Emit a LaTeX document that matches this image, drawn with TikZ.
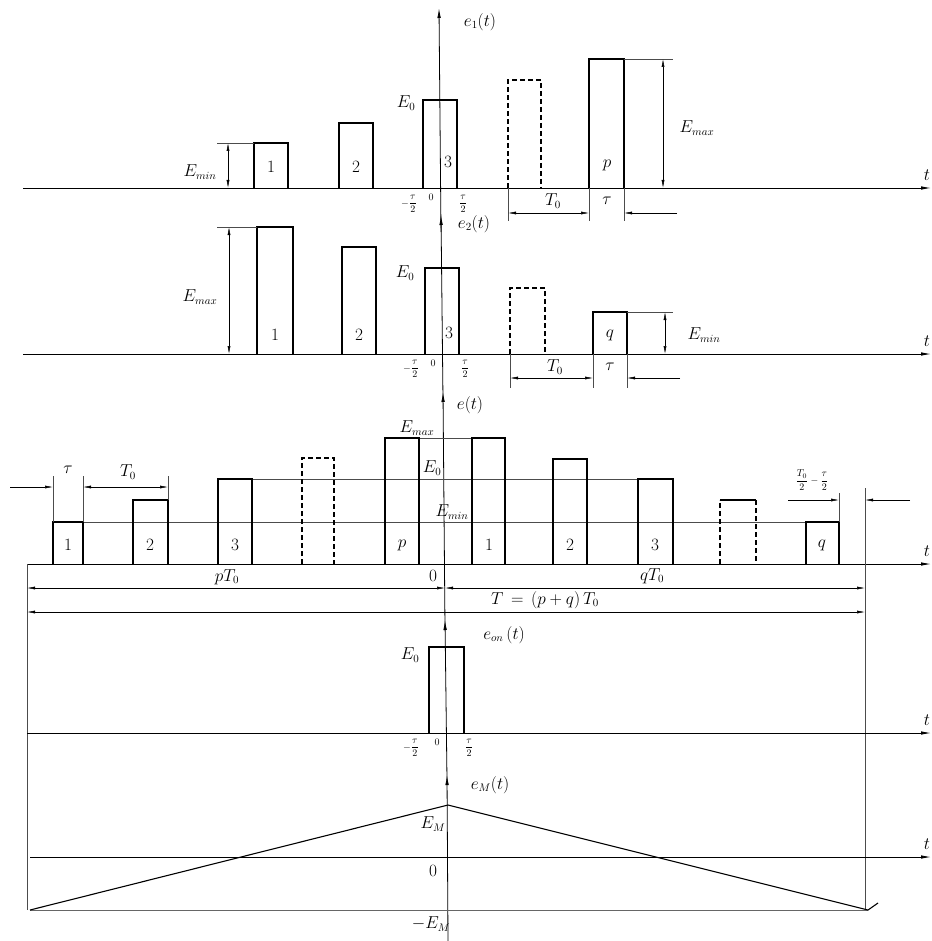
\documentclass[tikz,border=0pt]{standalone}
\usetikzlibrary{arrows.meta}
\begin{document}
\begin{tikzpicture}[x=1pt,y=-1pt,
  thinl/.style={line width=0.6pt, black!70},
  pulse/.style={line width=1.3pt},
  dpulse/.style={line width=1.3pt, dash pattern=on 5pt off 3pt},
  dimboth/.style={line width=0.5pt, {Latex[length=8pt,width=3pt]}-{Latex[length=8pt,width=3pt]}},
  dimend/.style={line width=0.5pt, -{Latex[length=8pt,width=3pt]}},
  axisarrow/.style={line width=0.8pt, -{Latex[length=10pt,width=3.5pt]}},
  lab/.style={font=\fontsize{16}{18}\selectfont, inner sep=1pt},
  slab/.style={font=\fontsize{10}{11}\selectfont, inner sep=0.5pt},
]
\useasboundingbox (0,0) rectangle (931,941);

% ---------------- axes (vertical) ----------------
\draw[axisarrow] (441,232) -- (439,8);
\draw[axisarrow] (443,400) -- (441,215);
\draw[axisarrow] (445,628) -- (443,392);
\draw[axisarrow] (447,780) -- (445,620);
\draw[axisarrow] (448,941) -- (447,775);

% ---------------- panel 1 : e1(t) ----------------
\draw[axisarrow] (23,188) -- (931,188);
\node[lab] (t1) at (927,175) {$t$};
\node[lab] (e1) at (480,22) {$e_1(t)$};
\draw[pulse] (254,188) -- (254,143) -- (288,143) -- (288,188);
\draw[pulse] (339,188) -- (339,123) -- (373,123) -- (373,188);
\draw[pulse] (423,188) -- (423,100) -- (457,100) -- (457,188);
\draw[dpulse] (508,188) -- (508,80) -- (541,80) -- (541,188);
\draw[pulse] (589,188) -- (589,59) -- (624,59) -- (624,188);
\node[lab] (a1) at (271,167) {$1$};
\node[lab] (a2) at (356,167) {$2$};
\node[lab] (a3) at (448,162) {$3$};
\node[lab] (ap) at (607,165) {$p$};
\node[lab] (aE0) at (406,103) {$E_0$};
\draw[thinl] (217,143) -- (254,143);
\draw[dimboth] (228,143) -- (228,188);
\node[lab] (aEmin) at (200,172) {$E_{min}$};
\draw[thinl] (624,59) -- (673,59);
\draw[dimboth] (663,59) -- (663,188);
\node[lab] (aEmax) at (697,128) {$E_{max}$};
\node[slab] (am) at (409,204) {$\displaystyle-\frac{\tau}{2}$};
\node[slab] (a0) at (431,197) {$0$};
\node[slab] (apl) at (463,204) {$\displaystyle\frac{\tau}{2}$};
\draw[thinl] (508,188) -- (508,221);
\draw[thinl] (589,188) -- (589,221);
\draw[thinl] (624,188) -- (624,221);
\draw[dimboth] (508,213) -- (589,213);
\draw[dimend] (677,213) -- (624,213);
\node[lab] (aT0) at (553,201) {$T_0$};
\node[lab] (atau) at (607,201) {$\tau$};

% ---------------- panel 2 : e2(t) ----------------
\draw[axisarrow] (23,354) -- (931,354);
\node[lab] (t2) at (927,341) {$t$};
\node[lab] (e2) at (474,224) {$e_2(t)$};
\draw[pulse] (257,354) -- (257,227) -- (293,227) -- (293,354);
\draw[pulse] (342,354) -- (342,247) -- (376,247) -- (376,354);
\draw[pulse] (425,354) -- (425,268) -- (459,268) -- (459,354);
\draw[dpulse] (510,354) -- (510,288) -- (545,288) -- (545,354);
\draw[pulse] (593,354) -- (593,312) -- (627,312) -- (627,354);
\node[lab] (b1) at (275,335) {$1$};
\node[lab] (b2) at (359,335) {$2$};
\node[lab] (b3) at (449,333) {$3$};
\node[lab] (bq) at (610,335) {$q$};
\node[lab] (bE0) at (405,273) {$E_0$};
\draw[thinl] (217,227) -- (257,227);
\draw[dimboth] (229,227) -- (229,354);
\node[lab] (bEmax) at (200,297) {$E_{max}$};
\draw[thinl] (627,312) -- (673,312);
\draw[dimboth] (665,312) -- (665,354);
\node[lab] (bEmin) at (704,335) {$E_{min}$};
\node[slab] (bm) at (411,369) {$\displaystyle-\frac{\tau}{2}$};
\node[slab] (b0) at (433,363) {$0$};
\node[slab] (bpl) at (465,369) {$\displaystyle\frac{\tau}{2}$};
\draw[thinl] (510,354) -- (510,388);
\draw[thinl] (593,354) -- (593,388);
\draw[thinl] (627,354) -- (627,388);
\draw[dimboth] (510,378) -- (593,378);
\draw[dimend] (680,378) -- (627,378);
\node[lab] (bT0) at (555,367) {$T_0$};
\node[lab] (btau) at (610,367) {$\tau$};

% ---------------- panel 3 : e(t) ----------------
\draw[axisarrow] (27,564) -- (931,564);
\node[lab] (t3) at (927,551) {$t$};
\node[lab] (e3) at (470,405) {$e(t)$};
\draw[thinl] (27,564) -- (27,910);
\draw[thinl] (865,488) -- (865,910);
\draw[thinl] (385,438) -- (505,438);
\draw[thinl] (218,479) -- (673,479);
\draw[thinl] (53,522) -- (839,522);
% left pulses
\draw[pulse] (53,564) -- (53,522) -- (83,522) -- (83,564);
\draw[pulse] (133,564) -- (133,500) -- (168,500) -- (168,564);
\draw[pulse] (218,564) -- (218,479) -- (252,479) -- (252,564);
\draw[dpulse] (302,564) -- (302,458) -- (334,458) -- (334,564);
\draw[pulse] (385,564) -- (385,438) -- (419,438) -- (419,564);
% right pulses
\draw[pulse] (472,564) -- (472,438) -- (505,438) -- (505,564);
\draw[pulse] (553,564) -- (553,459) -- (587,459) -- (587,564);
\draw[pulse] (638,564) -- (638,479) -- (673,479) -- (673,564);
\draw[dpulse] (720,564) -- (720,500);
\draw[pulse] (720,500) -- (756,500);
\draw[dpulse] (756,500) -- (756,564);
\draw[pulse] (806,564) -- (806,522) -- (839,522) -- (839,564);
\node[lab] (c1) at (68,545) {$1$};
\node[lab] (c2) at (150,545) {$2$};
\node[lab] (c3) at (235,545) {$3$};
\node[lab] (cp) at (402,545) {$p$};
\node[lab] (d1) at (489,545) {$1$};
\node[lab] (d2) at (570,545) {$2$};
\node[lab] (d3) at (655,545) {$3$};
\node[lab] (dq) at (822,545) {$q$};
\node[lab] (cEmax) at (417,428) {$E_{max}$};
\node[lab] (cE0) at (432,468) {$E_0$};
\node[lab] (cEmin) at (452,512) {$E_{min}$};
\node[lab] (c0) at (433,576) {$0$};
% tau / T0 dimension
\draw[thinl] (53,522) -- (53,476);
\draw[thinl] (83,522) -- (83,476);
\draw[thinl] (168,500) -- (168,476);
\draw[dimend] (10,487) -- (53,487);
\draw[dimboth] (83,487) -- (168,487);
\node[lab] (ctau) at (68,470) {$\tau$};
\node[lab] (cT0) at (128,472) {$T_0$};
% pT0, qT0, T
\draw[dimboth] (27,588) -- (445,588);
\node[lab] (cpT) at (227,577) {$pT_0$};
\draw[dimboth] (445,588) -- (865,588);
\node[lab] (cqT) at (652,576) {$qT_0$};
\draw[dimboth] (27,612) -- (865,612);
\node[lab] (cT) at (545,600) {$T\,=\,(p+q)\,T_0$};
% T0/2 - tau/2
\draw[thinl] (839,522) -- (839,493);
\draw[dimend] (788,500) -- (839,500);
\draw[dimend] (910,500) -- (865,500);
\node[slab] (cfrac) at (812,480) {$\displaystyle\frac{T_0}{2}-\frac{\tau}{2}$};

% ---------------- panel 4 : e_on(t) ----------------
\draw[axisarrow] (27,733) -- (931,733);
\node[lab] (t4) at (927,720) {$t$};
\node[lab] (e4) at (504,635) {$e_{on}\,(t)$};
\draw[pulse] (429,733) -- (429,647) -- (464,647) -- (464,733);
\node[lab] (fE0) at (410,655) {$E_0$};
\node[slab] (fm) at (411,748) {$\displaystyle-\frac{\tau}{2}$};
\node[slab] (f0) at (437,742) {$0$};
\node[slab] (fpl) at (469,748) {$\displaystyle\frac{\tau}{2}$};

% ---------------- panel 5 : e_M(t) ----------------
\draw[axisarrow] (30,857) -- (931,857);
\node[lab] (t5) at (927,844) {$t$};
\node[lab] (e5) at (490,785) {$e_M(t)$};
\draw[line width=0.5pt, black!60] (30,910) -- (868,910);
\draw[line width=1.1pt] (30,910) -- (448,805) -- (868,910) -- (878,903);
\node[lab] (gEM) at (433,824) {$E_M$};
\node[lab] (g0) at (433,871) {$0$};
\node[lab] (gmEM) at (431,924) {$-E_M$};
\end{tikzpicture}
\end{document}
